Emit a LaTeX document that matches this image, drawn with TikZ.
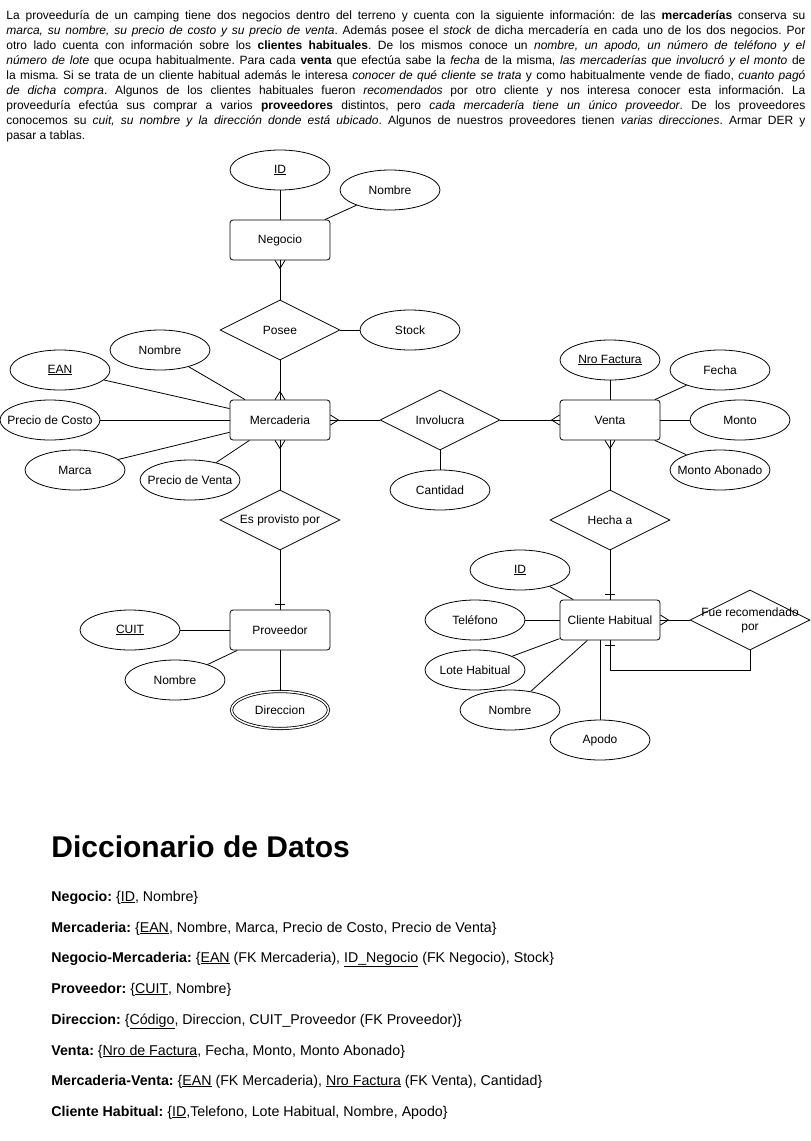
\documentclass[tikz,border=0pt]{standalone}
\usepackage{fontspec}
\setmainfont{Liberation Sans}
\usepackage{tikz}
\usetikzlibrary{shapes.geometric, calc}

\tikzset{
 entidad/.style={draw, rounded corners=3pt, minimum width=100pt, minimum height=40pt, inner sep=0pt, font=\fontsize{12}{14}\selectfont},
 relacion/.style={draw, diamond, aspect=2, minimum width=120pt, minimum height=60pt, inner sep=0pt, font=\fontsize{12}{14}\selectfont},
 atributo/.style={draw, ellipse, minimum width=100pt, minimum height=40pt, inner xsep=-20pt, inner ysep=0pt, font=\fontsize{12}{14}\selectfont},
 multivalor/.style={atributo, double, double distance=1.5pt, minimum width=97pt, minimum height=37pt},
 dicc/.style={anchor=base west, inner sep=0pt, font=\fontsize{14.2}{17}\selectfont},
}

% muchos (pata de gallo) y uno
\newcommand{\muchos}[2]{\draw[shift={(#1)}, rotate=#2] (0,5) -- (8,0) -- (0,-5);}
\newcommand{\uno}[2]{\draw[shift={(#1)}, rotate=#2] (5,5) -- (5,-5);}

\begin{document}
\frenchspacing
\begin{tikzpicture}[x=1pt, y=-1pt, line width=0.8pt]
 \useasboundingbox (0,0) rectangle (811,1141);

 % enunciado
 \node[anchor=north west, text width=799pt, align=justify, inner sep=0pt, font=\fontsize{12}{15}\selectfont] (enunciado) at (6,10) {\hyphenpenalty=10000\tolerance=9999
 La proveeduría de un camping tiene dos negocios dentro del terreno y cuenta con la siguiente información: de las \textbf{mercaderías} conserva su\linebreak
 \textit{marca, su nombre, su precio de costo y su precio de venta}. Además posee el \textit{stock} de dicha mercadería en cada uno de los dos negocios. Por\linebreak
 otro lado cuenta con información sobre los \textbf{clientes habituales}. De los mismos conoce un \textit{nombre, un apodo, un número de teléfono y el}\linebreak
 \textit{número de lote} que ocupa habitualmente. Para cada \textbf{venta} que efectúa sabe la \textit{fecha} de la misma, \textit{las mercaderías que involucró y el monto} de\linebreak
 la misma. Si se trata de un cliente habitual además le interesa \textit{conocer de qué cliente se trata} y como habitualmente vende de fiado, \textit{cuanto pagó}\linebreak
 \textit{de dicha compra}. Algunos de los clientes habituales fueron \textit{recomendados} por otro cliente y nos interesa conocer esta información. La\linebreak
 proveeduría efectúa sus comprar a varios \textbf{proveedores} distintos, pero \textit{cada mercadería tiene un único proveedor}. De los proveedores\linebreak
 conocemos su \textit{cuit, su nombre y la dirección donde está ubicado}. Algunos de nuestros proveedores tienen \textit{varias direcciones}. Armar DER y\linebreak
 pasar a tablas.};

 % entidades
 \node[entidad] (negocio) at (280,240) {Negocio};
 \node[entidad] (merc) at (280,420) {Mercaderia};
 \node[entidad] (venta) at (610,420) {Venta};
 \node[entidad] (prov) at (280,630) {Proveedor};
 \node[entidad] (cliente) at (610,620) {Cliente Habitual};

 % relaciones
 \node[relacion] (posee) at (280,330) {Posee};
 \node[relacion] (involucra) at (440,420) {Involucra};
 \node[relacion] (provisto) at (280,520) {Es provisto por};
 \node[relacion] (hecha) at (610,520) {Hecha a};
 \node[relacion, label={[align=center, font=\fontsize{12}{14}\selectfont]center:Fue recomendado\\por}] (recom) at (750,620) {};

 % atributos
 \node[atributo] (idneg) at (280,170) {\underline{ID}};
 \node[atributo] (nomneg) at (390,190) {Nombre};
 \node[atributo] (stock) at (410,330) {Stock};
 \node[atributo] (nommerc) at (160,350) {Nombre};
 \node[atributo] (ean) at (60,370) {\underline{EAN}};
 \node[atributo] (pcosto) at (50,420) {Precio de Costo};
 \node[atributo] (marca) at (75,470) {Marca};
 \node[atributo] (pventa) at (190,480) {Precio de Venta};
 \node[atributo] (cantidad) at (440,490) {Cantidad};
 \node[atributo] (nrofact) at (610,360) {\underline{Nro Factura}};
 \node[atributo] (fecha) at (720,370) {Fecha};
 \node[atributo] (monto) at (740,420) {Monto};
 \node[atributo] (montoab) at (720,470) {Monto Abonado};
 \node[atributo] (idcli) at (520,570) {\underline{ID}};
 \node[atributo] (tel) at (475,620) {Teléfono};
 \node[atributo] (lote) at (475,670) {Lote Habitual};
 \node[atributo] (nomcli) at (510,710) {Nombre};
 \node[atributo] (apodo) at (600,740) {Apodo};
 \node[atributo] (cuit) at (130,630) {\underline{CUIT}};
 \node[atributo] (nomprov) at (175,680) {Nombre};
 \node[multivalor] (direc) at (280,710) {Direccion};

 % atributos a entidades
 \draw (idneg) -- (negocio);
 \draw (nomneg) -- (negocio);
 \draw (stock) -- (posee);
 \draw (nommerc) -- (merc);
 \draw (ean) -- (merc);
 \draw (pcosto) -- (merc);
 \draw (marca) -- (merc);
 \draw (pventa) -- (merc);
 \draw (cantidad) -- (involucra);
 \draw (nrofact) -- (venta);
 \draw (fecha) -- (venta);
 \draw (monto) -- (venta);
 \draw (montoab) -- (venta);
 \draw (idcli) -- (cliente);
 \draw (tel) -- (cliente);
 \draw (lote) -- (cliente);
 \draw (nomcli) -- (cliente);
 \draw (apodo) -- (apodo |- cliente.south);
 \draw (cuit) -- (prov);
 \draw (nomprov) -- (prov);
 \draw (direc) -- (prov);

 % relaciones
 \draw (negocio) -- (posee);
 \draw (posee) -- (merc);
 \draw (merc) -- (involucra);
 \draw (involucra) -- (venta);
 \draw (merc) -- (provisto);
 \draw (provisto) -- (prov);
 \draw (venta) -- (hecha);
 \draw (hecha) -- (cliente);
 \draw (cliente) -- (recom);
 \draw (recom.south) -- ++(0,20) -| (cliente.south);

 % cardinalidades
 \muchos{negocio.south}{-90}
 \muchos{merc.north}{90}
 \muchos{merc.east}{0}
 \muchos{venta.west}{180}
 \muchos{merc.south}{-90}
 \muchos{venta.south}{-90}
 \muchos{cliente.east}{0}
 \uno{prov.north}{90}
 \uno{cliente.north}{90}
 \uno{cliente.south}{-90}

 % diccionario de datos
 \node[dicc, font=\fontsize{30}{36}\selectfont\bfseries] (titulo) at (51,857) {Diccionario de Datos};
 \node[dicc] (dnegocio) at (51,901) {\textbf{Negocio:} \{\underline{ID}, Nombre\}};
 \node[dicc] (dmerc) at (51,932) {\textbf{Mercaderia:} \{\underline{EAN}, Nombre, Marca, Precio de Costo, Precio de Venta\}};
 \node[dicc] (dnegmerc) at (51,962) {\textbf{Negocio-Mercaderia:} \{\underline{EAN} (FK Mercaderia), \underline{ID\_Negocio} (FK Negocio), Stock\}};
 \node[dicc] (dprov) at (51,993) {\textbf{Proveedor:} \{\underline{CUIT}, Nombre\}};
 \node[dicc] (ddirec) at (51,1024) {\textbf{Direccion:} \{\underline{Código}, Direccion, CUIT\_Proveedor (FK Proveedor)\}};
 \node[dicc] (dventa) at (51,1055) {\textbf{Venta:} \{\underline{Nro de Factura}, Fecha, Monto, Monto Abonado\}};
 \node[dicc] (dmercventa) at (51,1085) {\textbf{Mercaderia-Venta:} \{\underline{EAN} (FK Mercaderia), \underline{Nro Factura} (FK Venta), Cantidad\}};
 \node[dicc] (dcliente) at (51,1116) {\textbf{Cliente Habitual:} \{\underline{ID},Telefono, Lote Habitual, Nombre, Apodo\}};
\end{tikzpicture}
\end{document}
